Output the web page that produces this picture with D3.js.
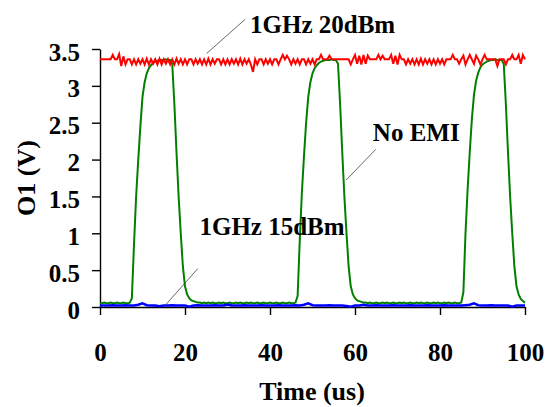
<!DOCTYPE html>
<html>
<head>
<meta charset="utf-8">
<script src="https://cdn.jsdelivr.net/npm/d3@7"></script>
<style>
  body { margin: 0; background: #fff; }
  .axis path, .axis line { stroke: #000; stroke-width: 1.4px; }
</style>
</head>
<body>
<div class="chart"></div>
<script>
// sampled every 0.5 us (0 .. 100)
var step = 0.5;

// 1GHz 20dBm trace (V)
var red20 = [
  3.36,3.36,3.36,3.36,3.36,3.36,3.42,3.36,3.36,3.43,
  3.27,3.40,3.29,3.36,3.36,3.29,3.36,3.29,3.36,3.30,
  3.36,3.29,3.37,3.29,3.36,3.30,3.36,3.29,3.37,3.29,
  3.36,3.30,3.36,3.29,3.36,3.29,3.37,3.30,3.36,3.29,
  3.36,3.29,3.36,3.36,3.29,3.36,3.30,3.36,3.29,3.36,
  3.29,3.37,3.29,3.36,3.30,3.36,3.36,3.29,3.36,3.29,
  3.36,3.29,3.36,3.30,3.36,3.29,3.37,3.29,3.36,3.30,
  3.36,3.29,3.19,3.36,3.29,3.36,3.36,3.29,3.36,3.30,
  3.36,3.29,3.36,3.36,3.29,3.36,3.42,3.36,3.41,3.36,
  3.29,3.36,3.30,3.36,3.29,3.36,3.36,3.29,3.36,3.30,
  3.36,3.29,3.36,3.36,3.42,3.36,3.36,3.36,3.41,3.36,
  3.36,3.36,3.36,3.36,3.36,3.36,3.36,3.36,3.29,3.36,
  3.42,3.30,3.41,3.29,3.42,3.30,3.41,3.36,3.36,3.36,
  3.36,3.42,3.36,3.41,3.36,3.36,3.36,3.42,3.30,3.41,
  3.29,3.42,3.36,3.36,3.29,3.36,3.30,3.36,3.29,3.36,
  3.29,3.37,3.29,3.36,3.30,3.36,3.29,3.36,3.29,3.36,
  3.30,3.36,3.29,3.36,3.36,3.36,3.42,3.36,3.36,3.30,
  3.36,3.41,3.29,3.36,3.42,3.36,3.30,3.41,3.36,3.29,
  3.36,3.42,3.36,3.36,3.36,3.36,3.36,3.27,3.36,3.36,
  3.36,3.29,3.36,3.36,3.42,3.36,3.36,3.42,3.30,3.42,
  3.36
];

// No EMI trace (V)
var noEmi = [
  0.05,0.05,0.06,0.05,0.05,0.06,0.05,0.05,0.06,0.05,
  0.05,0.06,0.05,0.05,0.06,0.12,0.85,1.50,2.00,2.45,
  2.85,3.05,3.17,3.24,3.28,3.31,3.33,3.34,3.35,3.35,
  3.35,3.36,3.35,3.35,3.30,2.75,2.10,1.50,1.00,0.55,
  0.28,0.17,0.12,0.09,0.08,0.07,0.06,0.06,0.05,0.06,
  0.05,0.06,0.05,0.06,0.05,0.05,0.06,0.05,0.06,0.05,
  0.05,0.06,0.05,0.05,0.06,0.05,0.06,0.05,0.05,0.06,
  0.05,0.06,0.05,0.05,0.06,0.05,0.05,0.06,0.05,0.05,
  0.06,0.05,0.05,0.06,0.05,0.05,0.06,0.05,0.05,0.06,
  0.05,0.05,0.06,0.15,0.90,1.55,2.05,2.50,2.85,3.05,
  3.17,3.24,3.28,3.31,3.33,3.34,3.35,3.35,3.35,3.36,
  3.35,3.35,3.30,2.75,2.10,1.50,1.00,0.55,0.28,0.17,
  0.12,0.09,0.08,0.07,0.06,0.06,0.05,0.06,0.05,0.05,
  0.06,0.05,0.05,0.06,0.05,0.06,0.05,0.05,0.06,0.05,
  0.05,0.06,0.05,0.06,0.05,0.05,0.06,0.05,0.05,0.06,
  0.05,0.06,0.05,0.05,0.06,0.05,0.05,0.06,0.05,0.06,
  0.05,0.05,0.06,0.05,0.06,0.05,0.05,0.06,0.05,0.05,
  0.06,0.20,1.00,1.60,2.10,2.55,2.88,3.07,3.18,3.25,
  3.29,3.31,3.33,3.34,3.35,3.35,3.36,3.35,3.35,3.35,
  3.30,2.75,2.10,1.50,1.00,0.55,0.28,0.17,0.11,0.08,
  0.06
];

// 1GHz 15dBm trace (V), sampled every 1 us
var blueStep = 1;
var blue15 = [
  0.02,0.02,0.02,0.025,0.02,0.02,0.025,0.02,0.02,0.03,
  0.05,0.025,0.02,0.02,0.01,0.02,0.02,0.025,0.02,0.02,
  0.02,0.005,0.02,0.025,0.02,0.02,0.02,0.025,0.02,0.02,
  0.035,0.02,0.02,0.02,0.025,0.02,0.02,0.02,0.025,0.02,
  0.02,0.02,0.025,0.02,0.02,0.02,0.025,0.02,0.03,0.05,
  0.025,0.02,0.02,0.02,0.025,0.02,0.02,0.02,0.015,0.005,
  0.02,0.02,0.03,0.02,0.02,0.025,0.02,0.02,0.02,0.025,
  0.02,0.02,0.02,0.025,0.02,0.02,0.02,0.025,0.02,0.02,
  0.02,0.025,0.02,0.02,0.02,0.02,0.025,0.03,0.05,0.025,
  0.02,0.02,0.025,0.02,0.02,0.02,0.02,0.005,0.02,0.02,
  0.02
];

var xTicks = [0, 20, 40, 60, 80, 100];
var yTicks = [0, 0.5, 1, 1.5, 2, 2.5, 3, 3.5];

// annotations: label, text position [t, V], leader from [t, V] to [t, V]
var annoLabels = ["1GHz 20dBm", "No EMI", "1GHz 15dBm"];
var annoTextAt = [[35.3, 3.72], [64.2, 2.25], [23.4, 0.98]];
var annoFrom = [[34.1, 3.9], [64.9, 2.14], [23.0, 0.52]];
var annoTo = [[25.1, 3.44], [57.9, 1.72], [15.3, 0.02]];

var serif = '"Liberation Serif", "Times New Roman", Times, serif';

var svgWidth = 545;
var svgHeight = 407;

var margin = { top: 49, right: 20, bottom: 100, left: 100 };
var chartWidth = 525 - margin.left;
var chartHeight = 307 - margin.top;

var svg = d3.select(".chart")
  .append("svg")
  .attr("width", svgWidth)
  .attr("height", svgHeight);

var chartGroup = svg.append("g")
  .attr("transform", `translate(${margin.left}, ${margin.top})`);

var xScale = d3.scaleLinear().domain([0, 100]).range([0, chartWidth]);
var yScale = d3.scaleLinear().domain([0, 3.5]).range([chartHeight, 0]);

function styleText(sel, size) {
  sel.style("font-family", serif)
    .style("font-weight", "bold")
    .style("font-size", size + "px")
    .style("fill", "#000");
}

// axes
var bottomAxis = d3.axisBottom(xScale)
  .tickValues(xTicks)
  .tickSizeInner(8)
  .tickSizeOuter(0)
  .tickPadding(28)
  .tickFormat(d3.format(""));

var leftAxis = d3.axisLeft(yScale)
  .tickValues(yTicks)
  .tickSizeInner(8)
  .tickSizeOuter(0)
  .tickPadding(12)
  .tickFormat(d3.format(""));

chartGroup.append("g")
  .attr("class", "axis")
  .attr("transform", `translate(0, ${chartHeight})`)
  .call(bottomAxis)
  .call(g => styleText(g.selectAll("text"), 25));

chartGroup.append("g")
  .attr("class", "axis")
  .call(leftAxis)
  .call(g => styleText(g.selectAll("text").attr("dy", "0.44em"), 25));

// traces
var line = d3.line()
  .x(d => xScale(d[0]))
  .y(d => yScale(d[1]));

function pts(values, dt) {
  return values.map((v, i) => [i * dt, v]);
}

chartGroup.append("path")
  .attr("d", line(pts(noEmi, step)))
  .attr("fill", "none")
  .attr("stroke", "#008000")
  .attr("stroke-width", 2);

chartGroup.append("path")
  .attr("d", line(pts(blue15, blueStep)))
  .attr("fill", "none")
  .attr("stroke", "#0000ff")
  .attr("stroke-width", 2.5);

chartGroup.append("path")
  .attr("d", line(pts(red20, step)))
  .attr("fill", "none")
  .attr("stroke", "#ff0000")
  .attr("stroke-width", 2);

// annotations
annoLabels.forEach(function(label, i) {
  chartGroup.append("line")
    .attr("x1", xScale(annoFrom[i][0]))
    .attr("y1", yScale(annoFrom[i][1]))
    .attr("x2", xScale(annoTo[i][0]))
    .attr("y2", yScale(annoTo[i][1]))
    .attr("stroke", "#444")
    .attr("stroke-width", 0.8);

  chartGroup.append("text")
    .attr("x", xScale(annoTextAt[i][0]))
    .attr("y", yScale(annoTextAt[i][1]))
    .text(label)
    .call(styleText, 25);
});

// axis titles
svg.append("text")
  .attr("transform", "translate(35, 178) rotate(-90)")
  .attr("text-anchor", "middle")
  .text("O1 (V)")
  .call(styleText, 26);

svg.append("text")
  .attr("x", 312)
  .attr("y", 400)
  .attr("text-anchor", "middle")
  .text("Time (us)")
  .call(styleText, 26);
</script>
</body>
</html>
